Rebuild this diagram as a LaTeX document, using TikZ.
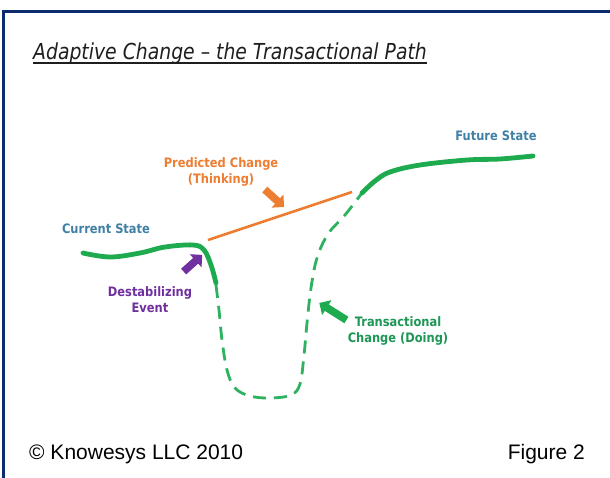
\documentclass[tikz,border=0pt]{standalone}
\usepackage{fontspec}
\usetikzlibrary{shapes.arrows}
\newfontfamily\lblfont{DejaVu Sans}[FakeStretch=0.88]
\newfontfamily\ttlfont{DejaVu Sans}[FakeStretch=0.855]
\newfontfamily\footfont{Liberation Sans}
\definecolor{navyb}{RGB}{11,45,110}
\definecolor{gsolid}{RGB}{30,170,78}
\definecolor{gdash}{RGB}{46,178,96}
\definecolor{orng}{RGB}{237,125,49}
\definecolor{purp}{RGB}{112,48,160}
\definecolor{teal}{RGB}{64,128,165}
\definecolor{gtext}{RGB}{30,150,85}
\definecolor{ttlgray}{RGB}{30,30,30}
\tikzset{
  lbl/.style={font=\lblfont\bfseries\fontsize{13}{16}\selectfont, align=center, inner sep=0pt},
  blockarrow/.style={single arrow, draw=none, fill=#1, inner sep=3.6pt,
    single arrow head extend=5pt, single arrow tip angle=90, sloped, allow upside down},
  solidpath/.style={draw=gsolid, line width=4.8pt, line cap=round},
  dashpath/.style={draw=gdash, line width=2.8pt, dash pattern=on 13pt off 8pt},
}
\begin{document}
\begin{tikzpicture}[x=1pt,y=-1pt]
\useasboundingbox (0,0) rectangle (610,477);
\fill[white] (0,0) rectangle (610,477);
% frame
\draw[navyb, line width=3pt] (3.5,478) -- (3.5,11) -- (611,11);
% title
\node[anchor=base west, inner sep=0pt, text=ttlgray, font=\ttlfont\itshape\fontsize{22}{26}\selectfont] (title) at (33,59) {Adaptive Change – the Transactional Path};
\draw[ttlgray, line width=1.4pt] ([yshift=-4pt]title.base west) -- ([yshift=-4pt]title.base east);
% curves
\draw[solidpath] plot[smooth, tension=0.6] coordinates {(83,253) (110,257) (140,253) (165,247) (193,245) (204,250) (211,265) (216,283)};
\draw[dashpath] plot[smooth, tension=0.6] coordinates {(216,285) (219,310) (222,340) (227,370) (235,388) (250,396) (270,398) (291,395) (300,384) (304,355) (307,323) (311,288) (317,258) (328,234) (345,215) (362,193)};
\draw[solidpath] plot[smooth, tension=0.6] coordinates {(362,193) (375,181) (390,172) (420,165) (467,160) (500,159) (533,156)};
% predicted path
\coordinate (p0) at (208,240);
\coordinate (p1) at (352,192);
\draw[orng, line width=2.6pt] (p0) -- (p1);
% labels
\node[lbl, text=teal] (cur) at (106,229) {Current State};
\node[lbl, text=teal] (fut) at (496,136) {Future State};
\node[lbl, text=orng] (pred) at (221,172) {Predicted Change\\(Thinking)};
\node[lbl, text=purp] (dest) at (150,300) {Destabilizing\\Event};
\node[lbl, text=gtext] (trans) at (398,331) {Transactional\\Change (Doing)};
% block arrows
\coordinate (oa0) at (263,188); \coordinate (oa1) at (283,206);
\coordinate (pa0) at (182,273); \coordinate (pa1) at (201,256);
\coordinate (ga0) at (348,321); \coordinate (ga1) at (321,304);
\path (oa0) -- (oa1) node[midway, blockarrow=orng, minimum height=26pt] (oarr) {};
\path (pa0) -- (pa1) node[midway, blockarrow=purp, minimum height=25pt] (parr) {};
\path (ga0) -- (ga1) node[midway, blockarrow=gsolid, minimum height=32pt] (garr) {};
% footer
\node[anchor=base west, inner sep=0pt, font=\footfont\fontsize{21}{25}\selectfont] (copy) at (29,459) {© Knowesys LLC 2010};
\node[anchor=base east, inner sep=0pt, font=\footfont\fontsize{21}{25}\selectfont] (fig) at (585,459) {Figure 2};
\end{tikzpicture}
\end{document}
